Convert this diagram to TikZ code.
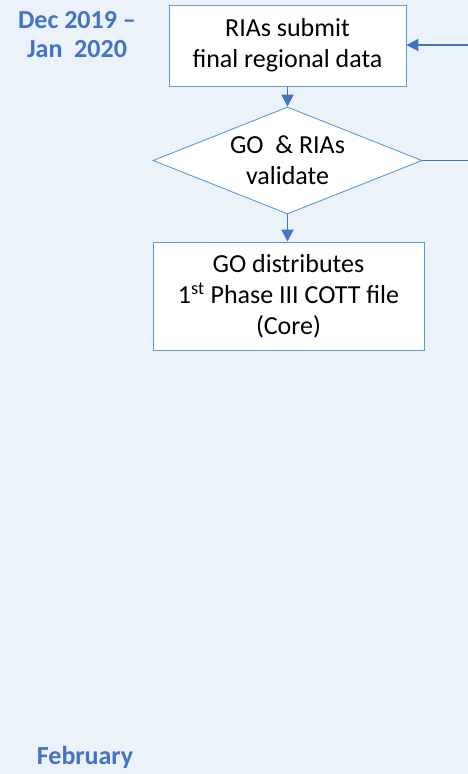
\documentclass[tikz,border=0pt]{standalone}
\usepackage{fontspec}
\setmainfont{Carlito}
\usetikzlibrary{positioning}
\usetikzlibrary{arrows.meta}
\usetikzlibrary{shapes.geometric}

\definecolor{bgblue}{RGB}{235,242,250}
\definecolor{edgeblue}{RGB}{91,155,213}
\definecolor{flowblue}{RGB}{68,114,196}

\tikzset{
  stepbox/.style={draw=edgeblue,line width=0.9pt,fill=white,align=center,
    inner sep=0pt,font=\fontsize{26}{31}\selectfont},
  checkbox/.style={diamond,aspect=2.51,draw=edgeblue,line width=0.9pt,fill=white,
    align=center,inner sep=0pt,font=\fontsize{26}{31}\selectfont},
  datelabel/.style={text=flowblue,align=center,inner sep=0pt,
    font=\bfseries\fontsize{26}{29}\selectfont},
  flow/.style={flowblue,line width=1.8pt},
  flowarrow/.style={flow,-{Triangle[length=12pt,width=12pt]}}
}

\begin{document}
\begin{tikzpicture}[x=1pt,y=-1pt]
\fill[bgblue] (0,0) rectangle (468,774);
\useasboundingbox (0,0) rectangle (468,774);

% right side of the loop, cut off by the frame
\coordinate (loopin) at (468,45);
\coordinate (loopout) at (468,160.5);

\node[stepbox,minimum width=237pt,minimum height=81pt] (submit) at (287.5,45.5)
  {RIAs submit\\final regional data};
\node[checkbox,minimum width=269pt,minimum height=107pt] (validate) at (287.5,160.5)
  {GO\ \ \& RIAs\\validate};
\node[stepbox,minimum width=271pt,minimum height=108pt] (distribute) at (288.5,296)
  {GO distributes\\1\textsuperscript{st} Phase III COTT file\\(Core)};

\node[datelabel] (decjan) at (77,34.5) {Dec 2019 --\\Jan\ \ 2020};
\node[datelabel] (feb) at (85,757) {February};

\draw[flowarrow] (submit.south) -- (validate.north);
\draw[flowarrow] (validate.south) -- (validate.south |- distribute.north);
\draw[flow] (validate.east) -- (loopout);
\draw[flowarrow] (loopin) -- (submit.east |- loopin);
\end{tikzpicture}
\end{document}
